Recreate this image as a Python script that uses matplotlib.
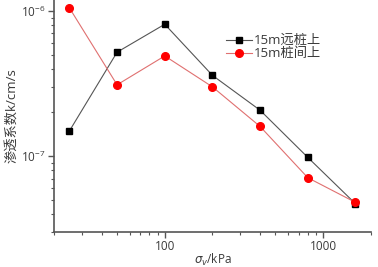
import numpy as np
import matplotlib.pyplot as plt
from matplotlib.ticker import LogLocator, NullFormatter

plt.rcParams['font.family'] = ['Open Sans', 'Noto Sans CJK SC', 'DejaVu Sans']
plt.rcParams['mathtext.fontset'] = 'dejavusans'

# --- data ---
pressure = [25, 50, 100, 200, 400, 800, 1600]
k_far = [1.49e-7, 5.2e-7, 8.1e-7, 3.6e-7, 2.07e-7, 9.8e-8, 4.7e-8]
k_between = [1.05e-6, 3.1e-7, 4.9e-7, 3.0e-7, 1.6e-7, 7.1e-8, 4.8e-8]
labels = ['15m远桩上', '15m桩间上']

text_c = '#3a3a3a'

fig = plt.figure(figsize=(3.78, 2.67), dpi=100)
ax = fig.add_axes([0.143, 0.131, 0.838, 0.869])

ax.plot(pressure, k_far, color='#555555', lw=0.8, marker='s', ms=5,
        mfc='black', mec='black', label=labels[0])
ax.plot(pressure, k_between, color='#e07070', lw=0.8, marker='o', ms=5.5,
        mfc='red', mec='red', label=labels[1])

ax.set_xscale('log')
ax.set_yscale('log')
ax.set_xlim(20, 2000)
ax.set_ylim(3.0e-8, 1.19e-6)

ax.xaxis.set_major_locator(LogLocator(base=10))
ax.xaxis.set_minor_locator(LogLocator(base=10, subs=np.arange(2, 10)))
ax.xaxis.set_minor_formatter(NullFormatter())
ax.yaxis.set_minor_formatter(NullFormatter())
ax.set_xticks([100, 1000])
ax.set_xticklabels(['100', '1000'])

for s in ['top', 'right']:
    ax.spines[s].set_visible(False)
for s in ['left', 'bottom']:
    ax.spines[s].set_color('#555555')
    ax.spines[s].set_linewidth(1.2)

ax.tick_params(which='major', direction='out', length=4, width=1, color='#555555',
               labelsize=8.5, labelcolor=text_c, pad=2)
ax.tick_params(which='minor', direction='out', length=2.5, width=0.8, color='#555555')

ax.set_xlabel(r'$\sigma_v$/kPa', fontsize=8.5, color=text_c, labelpad=-1)
ax.set_ylabel('渗透系数k/cm/s', fontsize=9.5, color=text_c, labelpad=2)

ax.legend(loc='upper left', bbox_to_anchor=(0.525, 0.875), frameon=False,
          fontsize=9.5, handlelength=2.0, handletextpad=0.1, labelspacing=0.0,
          borderaxespad=0, labelcolor=text_c)

fig.savefig('out.png', dpi=100)
